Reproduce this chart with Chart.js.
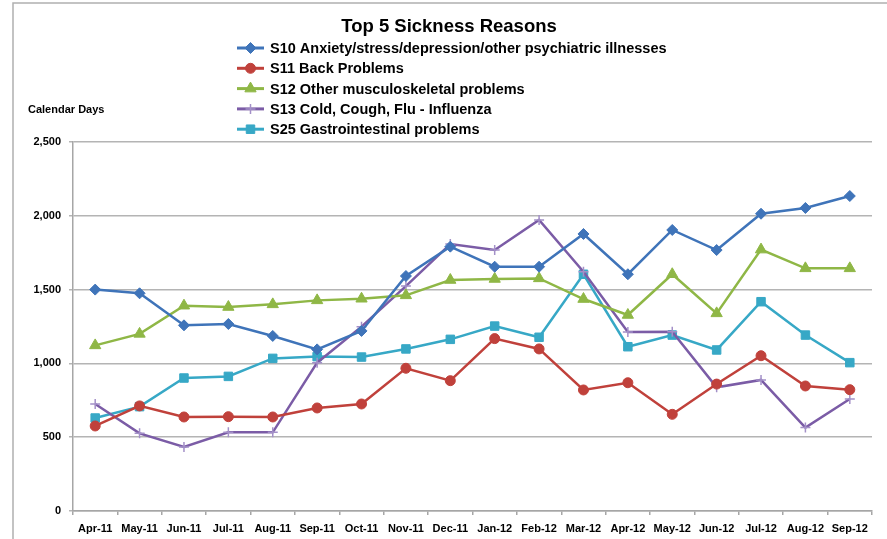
<!DOCTYPE html>
<html>
<head>
<meta charset="utf-8">
<script src="https://cdn.jsdelivr.net/npm/chart.js@4.4.1/dist/chart.umd.min.js"></script>
<style>
  html, body { margin: 0; padding: 0; background: #ffffff; }
  #box { width: 887px; height: 539px; position: relative; }
</style>
</head>
<body>
<div id="box"><canvas id="grafico"></canvas></div>
<script>
// dados
const meses = ['Apr-11', 'May-11', 'Jun-11', 'Jul-11', 'Aug-11', 'Sep-11', 'Oct-11', 'Nov-11', 'Dec-11',
    'Jan-12', 'Feb-12', 'Mar-12', 'Apr-12', 'May-12', 'Jun-12', 'Jul-12', 'Aug-12', 'Sep-12'];

const nomes = [
    'S10 Anxiety/stress/depression/other psychiatric illnesses',
    'S11 Back Problems',
    'S12 Other musculoskeletal problems',
    'S13 Cold, Cough, Flu - Influenza',
    'S25 Gastrointestinal problems'
];

const dadosS10 = [1500, 1475, 1258, 1267, 1186, 1095, 1220, 1592, 1791, 1655, 1655, 1877, 1604, 1904, 1768, 2014, 2053, 2134];
const dadosS11 = [576, 712, 637, 639, 637, 698, 725, 967, 883, 1168, 1098, 820, 869, 655, 860, 1052, 847, 822];
const dadosS12 = [1122, 1200, 1391, 1382, 1400, 1427, 1438, 1461, 1565, 1572, 1576, 1436, 1328, 1604, 1339, 1771, 1644, 1644];
const dadosS13 = [725, 526, 434, 533, 533, 1005, 1249, 1524, 1809, 1768, 1972, 1621, 1213, 1215, 838, 888, 565, 759];
const dadosS25 = [630, 707, 901, 912, 1034, 1046, 1043, 1098, 1163, 1253, 1177, 1604, 1113, 1192, 1091, 1418, 1192, 1005];

const fonte = "'Liberation Sans', Arial, sans-serif";

function serie(label, data, cor, marcador, raio, corMarcador) {
    return {
        label: label,
        data: data,
        borderColor: cor,
        backgroundColor: corMarcador || cor,
        pointBackgroundColor: corMarcador || cor,
        pointBorderColor: corMarcador || cor,
        pointStyle: marcador,
        pointRadius: raio,
        pointHoverRadius: raio,
        pointBorderWidth: marcador == 'cross' ? 1.5 : 1,
        borderWidth: 2.5,
        tension: 0,
        fill: false
    };
}

const datasets = [
    serie(nomes[0], dadosS10, '#3f74b9', 'rectRot', 5.5),
    serie(nomes[1], dadosS11, '#c0413b', 'circle', 5),
    serie(nomes[2], dadosS12, '#8fb746', 'triangle', 6.5),
    serie(nomes[3], dadosS13, '#7b5ca6', 'cross', 5, '#a390c8'),
    serie(nomes[4], dadosS25, '#37a8c6', 'rect', 6)
];

// titulo, legenda, "Calendar Days" e moldura
const extras = {
    id: 'extras',
    beforeDraw(chart) {
        const ctx = chart.ctx;
        ctx.save();
        ctx.strokeStyle = '#b0b0b0';
        ctx.lineWidth = 1.5;
        ctx.beginPath();
        ctx.moveTo(13, 539);
        ctx.lineTo(13, 3);
        ctx.lineTo(887, 3);
        ctx.stroke();
        ctx.restore();
    },
    afterDraw(chart) {
        const ctx = chart.ctx;
        ctx.save();
        ctx.fillStyle = '#000000';
        ctx.textBaseline = 'middle';

        ctx.font = 'bold 18.5px ' + fonte;
        ctx.textAlign = 'center';
        ctx.fillText('Top 5 Sickness Reasons', 449, 27);

        ctx.font = 'bold 11px ' + fonte;
        ctx.textAlign = 'left';
        ctx.fillText('Calendar Days', 28, 110);

        ctx.font = 'bold 14.5px ' + fonte;
        chart.data.datasets.forEach((ds, i) => {
            const y = 48 + i * 20.3;
            ctx.strokeStyle = ds.borderColor;
            ctx.lineWidth = 3;
            ctx.beginPath();
            ctx.moveTo(237, y);
            ctx.lineTo(264, y);
            ctx.stroke();
            ctx.fillStyle = ds.pointBackgroundColor;
            ctx.strokeStyle = ds.pointBorderColor;
            ctx.lineWidth = ds.pointBorderWidth;
            Chart.helpers.drawPoint(ctx, {
                pointStyle: ds.pointStyle,
                rotation: 0,
                radius: ds.pointRadius,
                borderWidth: ds.pointBorderWidth
            }, 250.5, y);
            ctx.fillStyle = '#000000';
            ctx.fillText(ds.label, 270, y + 1);
        });
        ctx.restore();
    }
};

const ctxGrafico = document.getElementById('grafico');

const chart = new Chart(ctxGrafico, {
    type: 'line',
    data: {
        labels: meses,
        datasets: datasets
    },
    options: {
        responsive: true,
        maintainAspectRatio: false,
        animation: false,
        layout: {
            padding: { top: 142, right: 15, left: 0, bottom: 0 }
        },
        scales: {
            x: {
                offset: true,
                grid: {
                    offset: true,
                    drawOnChartArea: false,
                    drawTicks: true,
                    tickLength: 4,
                    color: '#a6a6a6',
                    lineWidth: 1.5
                },
                border: { color: '#a6a6a6', width: 1.5 },
                ticks: {
                    color: '#000000',
                    padding: 7,
                    maxRotation: 0,
                    autoSkip: false,
                    font: { family: fonte, size: 11, weight: 'bold' }
                },
                afterFit(scale) { scale.height = 28; }
            },
            y: {
                min: 0,
                max: 2500,
                ticks: {
                    stepSize: 500,
                    color: '#000000',
                    padding: 8,
                    font: { family: fonte, size: 11, weight: 'bold' },
                    callback: (v) => v.toLocaleString('en-US')
                },
                grid: {
                    color: '#b4b4b4',
                    lineWidth: 1.5,
                    drawTicks: true,
                    tickLength: 4
                },
                border: { color: '#a6a6a6', width: 1.5 },
                afterFit(scale) { scale.width = 73; }
            }
        },
        plugins: {
            legend: { display: false },
            title: { display: false },
            tooltip: { enabled: false }
        }
    },
    plugins: [extras]
});
</script>
</body>
</html>
